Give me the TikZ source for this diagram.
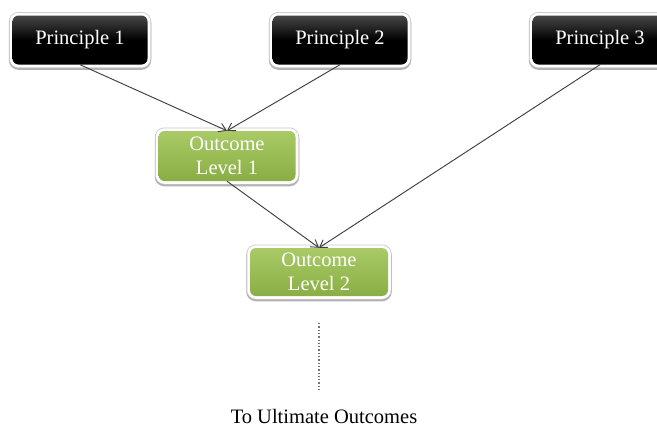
\documentclass[tikz,border=0pt]{standalone}
\usepackage{fontspec}
\setmainfont{Liberation Serif}
\usetikzlibrary{arrows.meta}
\definecolor{olivetop}{HTML}{A9CA66}
\definecolor{olivebot}{HTML}{8AAE45}
\tikzset{
  framed/.style={rounded corners=6pt, minimum height=49pt,
    preaction={draw=black!30, line width=7.5pt, transform canvas={yshift=-1.5pt}},
    preaction={draw=black!22, line width=7pt},
    preaction={draw=white, line width=5.5pt},
    text=white, font=\fontsize{20.5}{24}\selectfont, align=center, inner sep=2pt},
  principle/.style={framed, minimum width=135pt, top color=black!72, bottom color=black, middle color=black},
  outcome/.style={framed, minimum width=137pt, top color=olivetop, bottom color=olivebot},
  conn/.style={draw=black!75, line width=0.95pt, -{Straight Barb[length=7pt,width=9pt]}},
  dots/.style={draw=black!55, dotted, line width=1.3pt},
  plain/.style={text=black, font=\fontsize{20.5}{24}\selectfont}
}
\begin{document}
\begin{tikzpicture}[x=1pt,y=-1pt]
\useasboundingbox (0,0) rectangle (657,426);
\clip (0,0) rectangle (657,426);
\node[principle] (p1) at (80,40) {Principle 1};
\node[principle] (p2) at (340,40) {Principle 2};
\node[principle] (p3) at (600,40) {Principle 3};
\node[outcome, minimum height=50pt] (o1) at (227,156) {Outcome\\Level 1};
\node[outcome, minimum width=138pt, minimum height=48pt] (o2) at (319,272) {Outcome\\Level 2};
\coordinate (d1) at (319,323);
\coordinate (d2) at (319,392);
\node[plain, anchor=base] (t) at (324,423) {To Ultimate Outcomes};
\draw[conn] (p1.south) -- (o1.north);
\draw[conn] (p2.south) -- (o1.north);
\draw[conn] (o1.south) -- (o2.north);
\draw[conn] (p3.south) -- (o2.north);
\draw[dots] (d1) -- (d2);
\end{tikzpicture}
\end{document}
